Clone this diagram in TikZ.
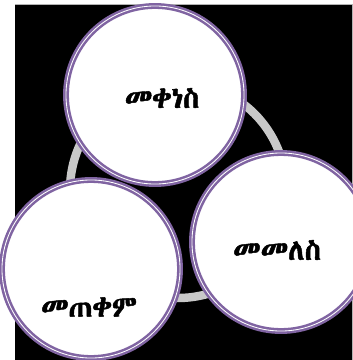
\documentclass[tikz,border=0pt]{standalone}
\usepackage{fontspec}
\IfFontExistsTF{Abyssinica SIL}{\newfontfamily\ethfont[Script=Ethiopic,FakeBold=1.6]{Abyssinica SIL}}{%
 \IfFontExistsTF{Noto Sans Ethiopic}{\newfontfamily\ethfont[Script=Ethiopic,FakeBold=1.6]{Noto Sans Ethiopic}}{%
  \IfFontExistsTF{FreeSerif}{\newfontfamily\ethfont[FakeBold=1.6]{FreeSerif}}{\newfontfamily\ethfont{DejaVu Sans}}}}
\definecolor{ringgray}{HTML}{C8C8C8}
\definecolor{rimpurple}{HTML}{8064A2}
\begin{document}
\begin{tikzpicture}[x=0.025cm,y=-0.025cm,
  stage/.style={circle,fill=white,draw=rimpurple,double=white,
    line width=1.8pt,double distance=0.6pt,minimum size=4.45cm,inner sep=0pt},
  word/.style={font=\ethfont\fontsize{21}{24}\selectfont,text=black}]
\useasboundingbox (0,0) rectangle (353,360);
\fill[black] (15,4) rectangle (353,360);
\draw[gray!60,line width=0.5pt] (15,4) -- (352,4) -- (352,360);

\draw[ringgray,line width=6pt] (178,190) circle (108);

\node[stage] (reduce) at (155,95) {};
\node[stage] (recycle) at (281,242) {};
\node[stage] (reuse) at (91,269) {};

\node[word] at (162,98) {መቀነስ};
\node[word] at (277,250) {መመለስ};
\node[word] at (89,307) {መጠቀም};
\end{tikzpicture}
\end{document}
